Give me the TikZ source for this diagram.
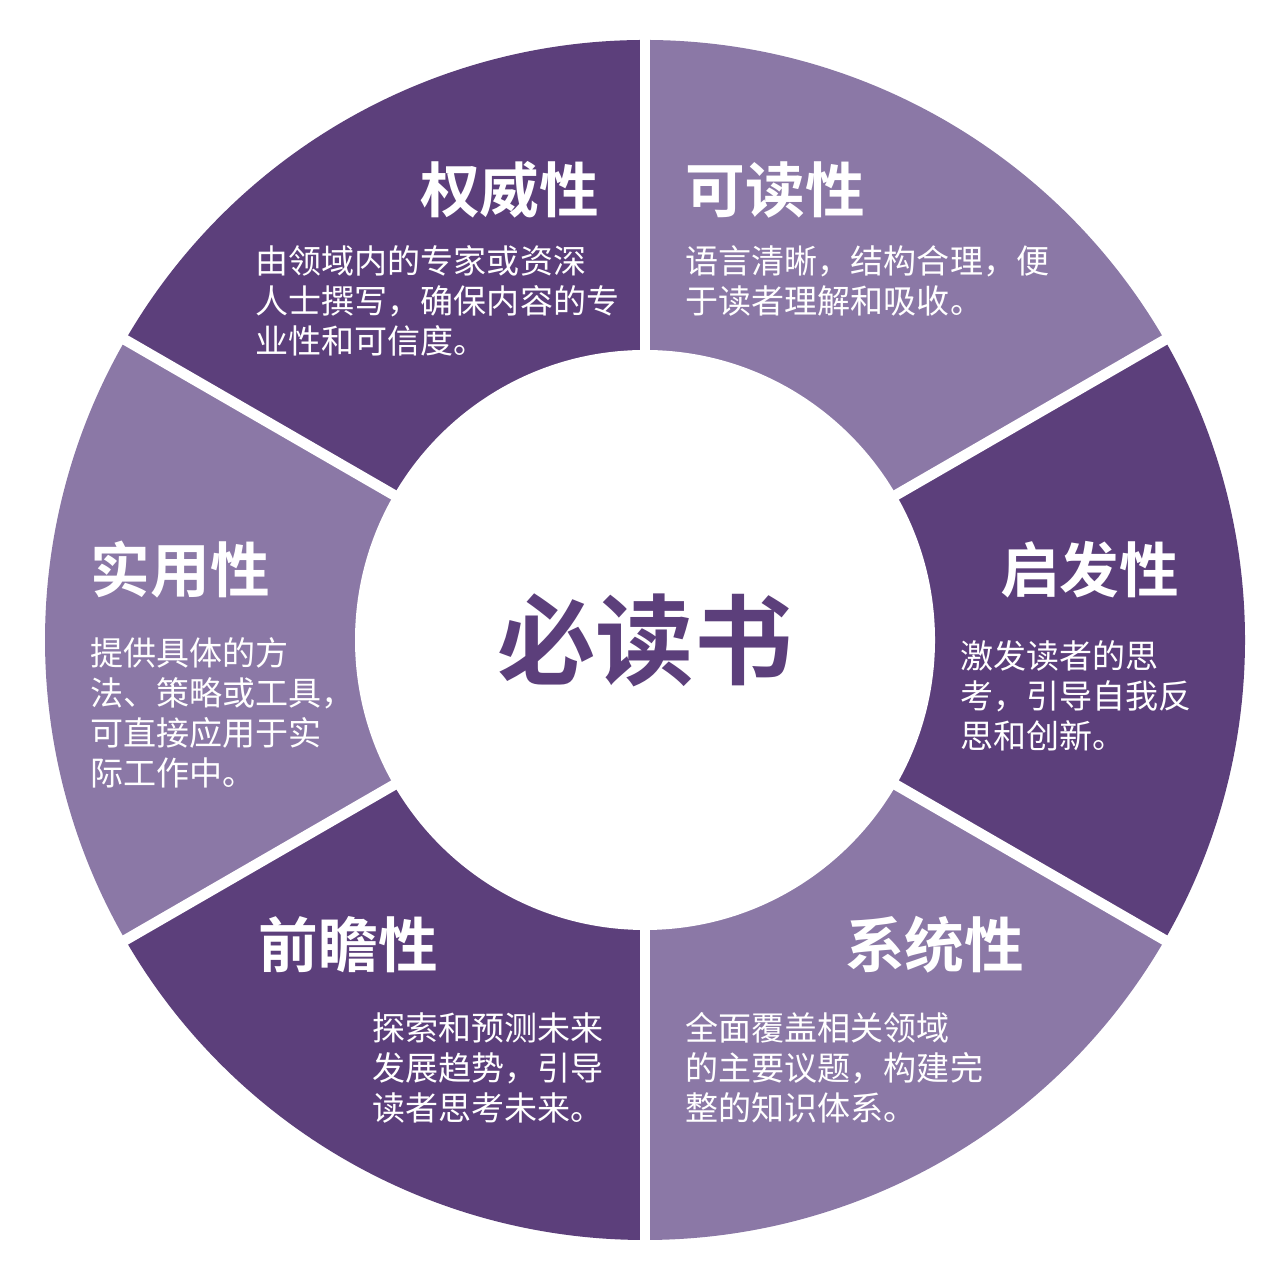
\documentclass[tikz,border=0pt]{standalone}
\usepackage{fontspec}
\newfontfamily\cjk{Noto Sans CJK SC}
\newfontfamily\cjkbold{Noto Sans CJK SC Bold}
\usetikzlibrary{positioning, calc}
\definecolor{darkpurple}{HTML}{5C3F7B}
\definecolor{lightpurple}{HTML}{8B78A6}
\tikzset{
	title/.style={text=white, font=\cjkbold\fontsize{17}{20}\selectfont, inner sep=0pt},
	body/.style={text=white, font=\cjk\fontsize{9.4}{11.4}\selectfont, align=left, inner sep=0pt, anchor=north west}
}

\begin{document}
\begin{tikzpicture}
	\useasboundingbox (0,0) rectangle (12.8,12.8);
	\fill[white] (0,0) rectangle (12.8,12.8);
	\coordinate (C) at (6.45,6.40);
	\def\rout{6.0}
	\def\rin{2.9}
	% sectors
	\foreach \a/\col in {90/darkpurple, 30/lightpurple, -30/darkpurple, -90/lightpurple, -150/darkpurple, 150/lightpurple}{
		\fill[\col] (C) -- ++(\a:\rout) arc[start angle=\a, delta angle=60, radius=\rout] -- cycle;
	}
	\foreach \a in {30,90,150,210,270,330}{
		\draw[white, line width=3pt] (C) -- ++(\a:\rout+0.05);
	}
	\fill[white] (C) circle (\rin);
	\node[text=darkpurple, font=\cjkbold\fontsize{28}{32}\selectfont] (center) at (C) {必读书};
	% titles
	\node[title, anchor=east] (authority) at (6.0,10.9) {权威性};
	\node[title, anchor=west] (readable) at (6.85,10.9) {可读性};
	\node[title, anchor=east] (inspire) at (11.8,7.1) {启发性};
	\node[title, anchor=east] (system) at (10.25,3.35) {系统性};
	\node[title, anchor=west] (forward) at (2.58,3.35) {前瞻性};
	\node[title, anchor=west] (practical) at (0.9,7.1) {实用性};
	% descriptions
	\node[body] (authtext) at (2.55,10.35) {由领域内的专家或资深\\人士撰写，确保内容的专\\业性和可信度。};
	\node[body] (readtext) at (6.85,10.35) {语言清晰，结构合理，便\\于读者理解和吸收。};
	\node[body] (insptext) at (9.6,6.4) {激发读者的思\\考，引导自我反\\思和创新。};
	\node[body] (systext) at (6.85,2.68) {全面覆盖相关领域\\的主要议题，构建完\\整的知识体系。};
	\node[body] (fwdtext) at (3.72,2.68) {探索和预测未来\\发展趋势，引导\\读者思考未来。};
	\node[body] (practext) at (0.9,6.43) {提供具体的方\\法、策略或工具，\\可直接应用于实\\际工作中。};
\end{tikzpicture}
\end{document}
